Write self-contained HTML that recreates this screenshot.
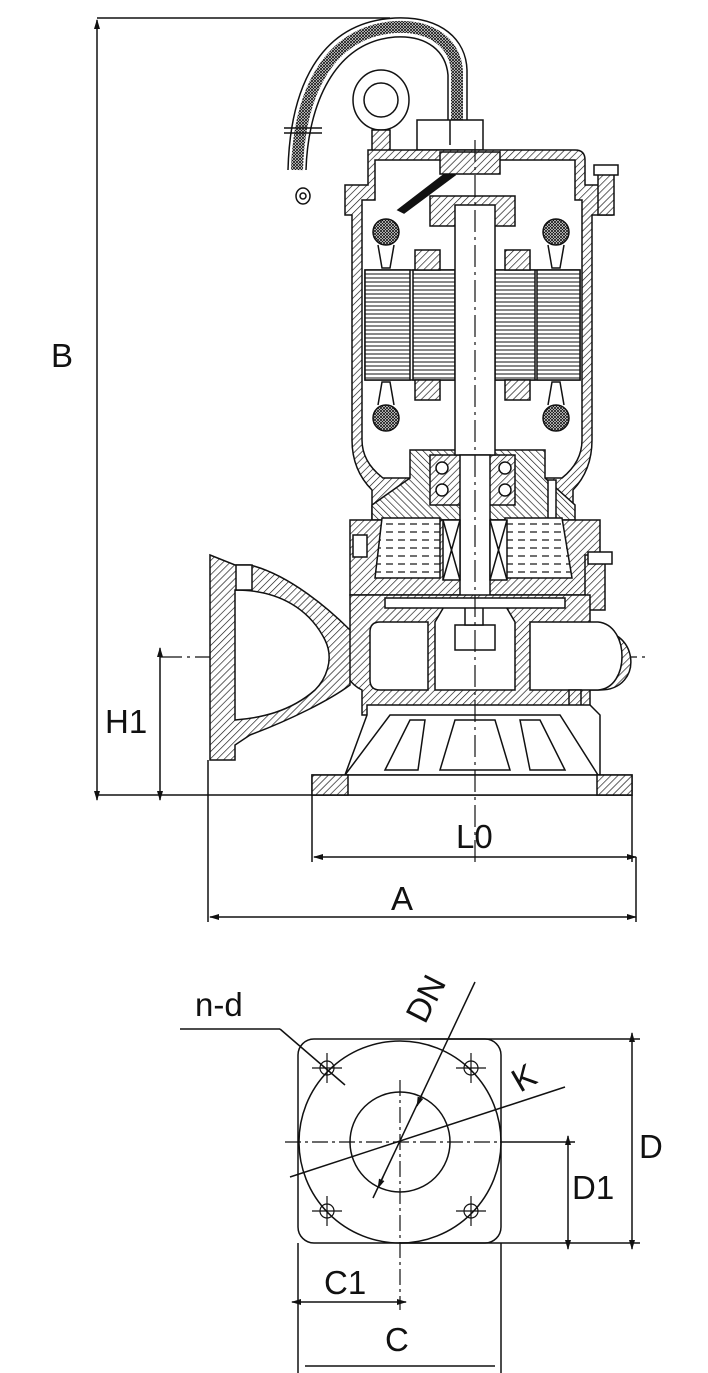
<!DOCTYPE html>
<html><head><meta charset="utf-8"><style>
html,body{margin:0;padding:0;background:#fff}
svg{display:block}
text{font-family:"Liberation Sans",Arial,sans-serif;fill:#111}
</style></head><body>
<svg width="708" height="1373" viewBox="0 0 708 1373" xmlns="http://www.w3.org/2000/svg">
<defs>
<pattern id="h" width="5" height="5" patternUnits="userSpaceOnUse" patternTransform="rotate(45)">
<rect width="5" height="5" fill="#fff"/><line x1="0" y1="0" x2="0" y2="5" stroke="#111" stroke-width="1.3"/></pattern>
<pattern id="hr" width="5" height="5" patternUnits="userSpaceOnUse" patternTransform="rotate(-45)">
<rect width="5" height="5" fill="#fff"/><line x1="0" y1="0" x2="0" y2="5" stroke="#111" stroke-width="1.3"/></pattern>
<pattern id="x" width="3" height="3" patternUnits="userSpaceOnUse">
<rect width="3" height="3" fill="#fff"/><path d="M0 0L3 3M3 0L0 3" stroke="#111" stroke-width="0.8"/></pattern>
<pattern id="oil" width="12" height="8" patternUnits="userSpaceOnUse">
<rect width="12" height="8" fill="#fff"/><line x1="2" y1="4" x2="9" y2="4" stroke="#111" stroke-width="1.2"/></pattern>
<pattern id="st" width="4" height="4" patternUnits="userSpaceOnUse">
<rect width="4" height="4" fill="#fff"/><line x1="0" y1="2" x2="4" y2="2" stroke="#111" stroke-width="1"/></pattern>
<marker id="a" markerWidth="10" markerHeight="8" refX="9" refY="4" orient="auto-start-reverse" markerUnits="userSpaceOnUse"><path d="M0 1L10 4L0 7Z" fill="#111"/></marker>
</defs>
<g stroke="#111" stroke-width="1.5" fill="none">
<line x1="97" y1="18" x2="390" y2="18"/>
<line x1="97" y1="20" x2="97" y2="800" marker-start="url(#a)" marker-end="url(#a)"/>
<line x1="97" y1="795" x2="632" y2="795"/>
<line x1="160" y1="648" x2="160" y2="800" marker-start="url(#a)" marker-end="url(#a)"/>
<line x1="160" y1="657" x2="650" y2="657" stroke-dasharray="22 5 3 5" stroke-width="1.2"/>
<line x1="312" y1="795" x2="312" y2="862"/>
<line x1="632" y1="795" x2="632" y2="862"/>
<line x1="314" y1="857" x2="636" y2="857" marker-start="url(#a)" marker-end="url(#a)"/>
<line x1="208" y1="760" x2="208" y2="922"/>
<line x1="636" y1="857" x2="636" y2="922"/>
<line x1="210" y1="917" x2="636" y2="917" marker-start="url(#a)" marker-end="url(#a)"/>

<!-- cable -->
<path d="M288 170 C290 90 318 22 395 18 C442 16 466 40 467 70 L467 125"/>
<path d="M306 170 C308 105 334 42 395 37 C428 35 446 52 448 75 L448 125"/>
<path d="M297 170 C299 97 326 32 395 27 C435 25 456 46 457 72 L457 125" stroke="url(#x)" stroke-width="12"/>
<line x1="284" y1="128" x2="322" y2="128"/><line x1="284" y1="133" x2="322" y2="133"/>
<ellipse cx="303" cy="196" rx="7" ry="8"/><circle cx="303" cy="196" r="3"/>
<ellipse cx="381" cy="100" rx="28" ry="30"/>
<circle cx="381" cy="100" r="17"/>
<rect x="372" y="130" width="18" height="25" fill="url(#h)"/>
<rect x="417" y="120" width="66" height="30" fill="#fff"/>
<line x1="450" y1="120" x2="450" y2="145"/>
<path d="M345 185 L368 185 L368 150 L575 150 Q585 150 585 160 L585 185 L612 185 L612 215 L592 215 L592 440 Q592 470 573 490 L573 520 L372 520 L372 490 Q352 470 352 440 L352 215 L345 215 Z" fill="url(#h)"/>
<path d="M375 160 L575 160 L575 200 L582 200 L582 440 Q582 462 562 478 L383 478 Q362 462 362 440 L362 200 L375 200 Z" fill="#fff"/>
<path d="M398 210 L450 170 L455 175 L404 213 Z" fill="#111"/>
<rect x="430" y="196" width="85" height="30" fill="url(#h)"/>
<rect x="440" y="152" width="60" height="22" fill="url(#h)"/>
<rect x="598" y="168" width="16" height="47" fill="url(#h)"/>
<rect x="594" y="165" width="24" height="10" fill="#fff"/>
<rect x="365" y="270" width="215" height="110" fill="#fff"/>
<rect x="365" y="270" width="45" height="110" fill="url(#st)"/>
<rect x="413" y="270" width="42" height="110" fill="url(#st)"/>
<rect x="495" y="270" width="40" height="110" fill="url(#st)"/>
<rect x="537" y="270" width="43" height="110" fill="url(#st)"/>
<rect x="415" y="250" width="25" height="20" fill="url(#h)"/>
<rect x="505" y="250" width="25" height="20" fill="url(#h)"/>
<rect x="415" y="380" width="25" height="20" fill="url(#h)"/>
<rect x="505" y="380" width="25" height="20" fill="url(#h)"/>
<circle cx="386" cy="232" r="13" fill="url(#x)"/><circle cx="556" cy="232" r="13" fill="url(#x)"/>
<circle cx="386" cy="418" r="13" fill="url(#x)"/><circle cx="556" cy="418" r="13" fill="url(#x)"/>
<path d="M378 245 L382 268 L390 268 L394 245"/><path d="M548 245 L552 268 L560 268 L564 245"/>
<path d="M378 405 L382 382 L390 382 L394 405"/><path d="M548 405 L552 382 L560 382 L564 405"/>
<path d="M410 450 L545 450 L545 478 L575 505 L575 520 L372 520 L372 505 L410 478 Z" fill="url(#hr)"/>
<rect x="430" y="455" width="85" height="50" fill="url(#h)"/>
<circle cx="442" cy="468" r="6" fill="#fff"/><circle cx="442" cy="490" r="6" fill="#fff"/>
<circle cx="505" cy="468" r="6" fill="#fff"/><circle cx="505" cy="490" r="6" fill="#fff"/>
<rect x="548" y="480" width="8" height="40" fill="#fff"/>
<path d="M350 520 L600 520 L600 595 L350 595 Z" fill="url(#h)"/>
<path d="M382 518 L440 518 L440 578 L375 578 Z" fill="url(#oil)"/>
<path d="M505 518 L562 518 L572 578 L505 578 Z" fill="url(#oil)"/>
<rect x="353" y="535" width="14" height="22" fill="#fff"/>
<rect x="585" y="555" width="20" height="55" fill="url(#h)"/>
<rect x="588" y="552" width="24" height="12" fill="#fff"/>
<rect x="455" y="205" width="40" height="250" fill="#fff"/>
<rect x="460" y="455" width="30" height="150" fill="#fff"/>
<rect x="443" y="520" width="17" height="60" fill="#fff"/><path d="M443 520L460 580M460 520L443 580"/>
<rect x="490" y="520" width="17" height="60" fill="#fff"/><path d="M490 520L507 580M507 520L490 580"/>
<path d="M350 595 L590 595 L590 630 C640 625 645 690 600 690 L590 690 L590 715 L362 715 L362 690 C340 680 330 640 350 630 Z" fill="url(#h)"/>
<path d="M380 622 L428 622 L428 690 L380 690 Q370 690 370 680 L370 632 Q370 622 380 622 Z" fill="#fff"/>
<path d="M530 622 L598 622 C630 625 630 688 598 690 L530 690 Z" fill="#fff"/>
<path d="M445 605 L505 605 L515 622 L515 690 L435 690 L435 622 Z" fill="#fff"/>
<rect x="455" y="625" width="40" height="25" fill="#fff"/>
<rect x="465" y="605" width="18" height="20" fill="#fff"/>
<rect x="385" y="598" width="180" height="10" fill="#fff"/>
<rect x="569" y="690" width="12" height="30" fill="url(#h)"/><rect x="566" y="718" width="18" height="14" fill="#fff"/>
<path d="M210 555 L235 565 L250 565 C290 575 330 610 350 630 L350 685 C330 700 290 720 250 735 L235 745 L235 760 L210 760 Z" fill="url(#h)"/>
<path d="M235 590 C280 590 310 610 325 640 C335 660 325 680 315 690 C290 712 260 718 235 720 Z" fill="#fff"/>
<rect x="236" y="565" width="16" height="25" fill="#fff"/>
<path d="M367 705 L590 705 L600 715 L600 775 L345 775 L345 775 L367 715 Z" fill="#fff"/>
<path d="M345 775 L390 715 L560 715 L598 775" />
<path d="M385 770 L410 720 L425 720 L418 770 Z"/>
<path d="M440 770 L455 720 L495 720 L510 770 Z"/>
<path d="M530 770 L520 720 L540 720 L565 770 Z"/>
<rect x="312" y="775" width="320" height="20" fill="#fff"/>
<rect x="312" y="775" width="36" height="20" fill="url(#h)"/>
<rect x="597" y="775" width="35" height="20" fill="url(#h)"/>
<line x1="475" y1="140" x2="475" y2="862" stroke-dasharray="22 5 3 5" stroke-width="1.2"/>

<rect x="298" y="1039" width="203" height="204" rx="16"/>
<circle cx="400" cy="1142" r="101"/>
<circle cx="400" cy="1142" r="50"/>
<g stroke-width="1.2">
<circle cx="327" cy="1068" r="7"/><circle cx="471" cy="1068" r="7"/>
<circle cx="327" cy="1211" r="7"/><circle cx="471" cy="1211" r="7"/>
<path d="M312 1068h30M327 1053v30M456 1068h30M471 1053v30M312 1211h30M327 1196v30M456 1211h30M471 1196v30"/>
</g>
<line x1="285" y1="1142" x2="500" y2="1142" stroke-dasharray="16 4 3 4" stroke-width="1.2"/>
<line x1="400" y1="1080" x2="400" y2="1310" stroke-dasharray="16 4 3 4" stroke-width="1.2"/>
<line x1="475" y1="982" x2="373" y2="1198"/>
<path d="M422 1094 L417 1106" marker-end="url(#a)"/>
<path d="M378 1188 L383 1177" marker-start="url(#a)"/>
<line x1="290" y1="1177" x2="565" y2="1087"/>
<line x1="180" y1="1029" x2="280" y2="1029"/>
<line x1="280" y1="1029" x2="345" y2="1085"/>
<line x1="420" y1="1039" x2="640" y2="1039"/>
<line x1="400" y1="1243" x2="640" y2="1243"/>
<line x1="632" y1="1033" x2="632" y2="1249" marker-start="url(#a)" marker-end="url(#a)"/>
<line x1="500" y1="1142" x2="575" y2="1142"/>
<line x1="568" y1="1136" x2="568" y2="1249" marker-start="url(#a)" marker-end="url(#a)"/>
<line x1="298" y1="1243" x2="298" y2="1373"/>
<line x1="501" y1="1243" x2="501" y2="1373"/>
<line x1="292" y1="1302" x2="406" y2="1302" marker-start="url(#a)" marker-end="url(#a)"/>
<line x1="305" y1="1366" x2="495" y2="1366"/>
</g>
<g font-size="33">
<text x="51" y="367">B</text>
<text x="105" y="733">H1</text>
<text x="456" y="848">L0</text>
<text x="391" y="910">A</text>
<text x="195" y="1016">n-d</text>
<text x="0" y="0" transform="translate(425 1025) rotate(-63)">DN</text>
<text x="0" y="0" transform="translate(520 1093) rotate(-30)">K</text>
<text x="639" y="1158">D</text>
<text x="572" y="1199">D1</text>
<text x="324" y="1294">C1</text>
<text x="385" y="1351">C</text>
</g>
</svg>
</body></html>
